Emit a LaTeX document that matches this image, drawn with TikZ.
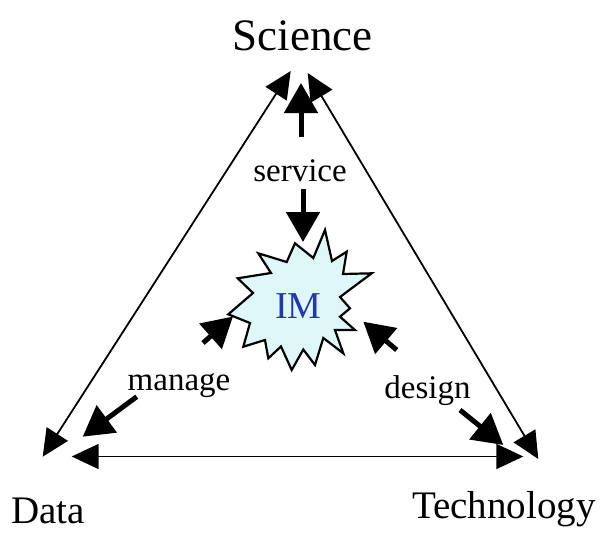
\documentclass[tikz,border=0pt]{standalone}
\usepackage{fontspec}
\setmainfont{Liberation Serif}
\usetikzlibrary{arrows.meta}
\definecolor{imblue}{RGB}{35,55,175}
\definecolor{starfill}{RGB}{222,248,250}
\begin{document}
\begin{tikzpicture}[x=1pt,y=-1pt,
  sideline/.style={line width=1.8pt,
    {Triangle[length=27pt,width=25pt]}-{Triangle[length=27pt,width=25pt]}},
  flowarrow/.style={line width=5pt, -{Triangle[length=30pt,width=33pt]}},
  cornerlabel/.style={anchor=base, inner sep=0pt, font=\fontsize{39}{46}\selectfont},
  flowlabel/.style={anchor=base, inner sep=0pt, font=\fontsize{33}{40}\selectfont},
  starshape/.style={draw=black, line width=2.2pt, fill=starfill, line join=miter, miter limit=4}
]
\useasboundingbox (0,0) rectangle (602,533);

% corner texts
\node[cornerlabel, font=\fontsize{45}{54}\selectfont] (sci) at (302.5,50) {Science};
\node[cornerlabel] (data) at (48,523) {Data};
\node[cornerlabel] (tech) at (504,518) {Technology};

% flow labels
\node[flowlabel] (service) at (300,181.7) {service};
\node[flowlabel] (manage) at (179,390) {manage};
\node[flowlabel] (design) at (427.5,398.3) {design};

% star
\draw[starshape] (325,230) -- (313.3,258) -- (295,243.3) -- (286.7,262) -- (258.3,253.3)
  -- (271,273) -- (237.7,278.3) -- (253,293) -- (228.3,314.3) -- (250,323)
  -- (243.3,346.7) -- (265,340) -- (268.3,358.3) -- (281,346.5) -- (291.7,370)
  -- (303.3,349.5) -- (315,365) -- (323.3,338) -- (343.3,353.3) -- (335,330)
  -- (355,330) -- (340,316.7) -- (350,308.3) -- (340,297) -- (371.7,273.3)
  -- (343,274) -- (346.7,251.7) -- (332,261) -- cycle;
\node[anchor=base, inner sep=0pt, text=imblue, font=\fontsize{38}{44}\selectfont] (im) at (298.5,318.3) {IM};

% triangle side end points
\coordinate (sciL) at (290.7,71);
\coordinate (sciR) at (307.7,73);
\coordinate (dataT) at (42.7,456.7);
\coordinate (dataR) at (71.7,456.5);
\coordinate (techT) at (538.3,459);
\coordinate (techL) at (523.3,456.5);

\draw[sideline] (sciL) -- (dataT);
\draw[sideline] (sciR) -- (techT);
\draw[sideline] (dataR) -- (techL);

% thick arrows
\coordinate (svcUpS) at (301,137);
\coordinate (svcUpE) at (301,83);
\coordinate (svcDnS) at (303,189);
\coordinate (svcDnE) at (303,242);
\coordinate (mgInS) at (203,343);
\coordinate (mgInE) at (233,316.5);
\coordinate (dsInS) at (396.7,350);
\coordinate (dsInE) at (363.3,321.7);
\coordinate (mgOutS) at (136.7,396.7);
\coordinate (mgOutE) at (82.7,436.7);
\coordinate (dsOutS) at (460,410);
\coordinate (dsOutE) at (503.3,445);

\draw[flowarrow] (svcUpS) -- (svcUpE);
\draw[flowarrow] (svcDnS) -- (svcDnE);
\draw[flowarrow] (mgInS) -- (mgInE);
\draw[flowarrow] (dsInS) -- (dsInE);
\draw[flowarrow] (mgOutS) -- (mgOutE);
\draw[flowarrow] (dsOutS) -- (dsOutE);
\end{tikzpicture}
\end{document}
